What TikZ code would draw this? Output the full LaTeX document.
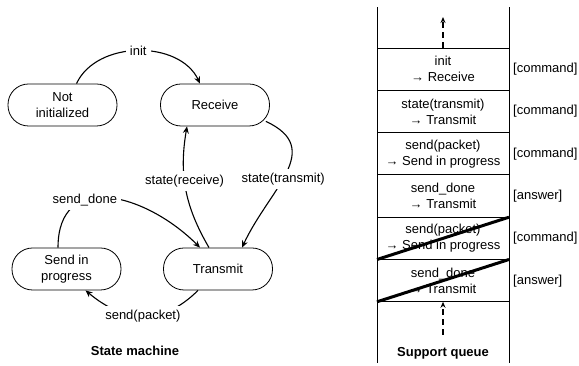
\documentclass[tikz,border=0pt]{standalone}
\usepackage{fontspec}
\setmainfont{Liberation Sans}
\usetikzlibrary{arrows.meta,positioning}

\begin{document}
\begin{tikzpicture}[x=1pt, y=1pt,
  every node/.style={font=\fontsize{13}{16}\selectfont},
  statenode/.style={draw, rounded corners=20.5pt, minimum width=109pt, minimum height=42pt, align=center, line width=0.8pt},
  edgelabel/.style={fill=white, inner sep=4pt},
  queuerow/.style={draw, minimum width=132pt, minimum height=42.3pt, align=center, inner sep=0pt, outer sep=0pt, line width=0.8pt},
  kindlabel/.style={anchor=west, inner sep=0pt, xshift=4pt},
  transition/.style={-{Stealth[length=7pt,width=6pt]}, line width=1.1pt},
  flow/.style={-{Stealth[length=6pt,width=5pt]}, dash pattern=on 6pt off 4pt, line width=1.1pt},
  title/.style={font=\fontsize{13}{16}\selectfont\bfseries}]
\useasboundingbox (0,0) rectangle (579,366);
% State machine
\node[statenode] (notinit) at (62.5, 261) {Not\\initialized};
\node[statenode] (receive) at (215, 261) {Receive};
\node[statenode] (sendprog) at (66.5, 97) {Send in\\progress};
\node[statenode] (transmit) at (218, 97) {Transmit};
\node[title] (smtitle) at (135, 15) {State machine};
\draw[transition] ([xshift=14pt]notinit.north) to[out=65, in=115] node[edgelabel] {init} ([xshift=-15pt]receive.north);
\draw[transition] ([shift={(-4pt,5pt)}]receive.south east) to[out=-25, in=65, looseness=1.3] node[edgelabel, pos=0.55] {state(transmit)} ([xshift=24pt]transmit.north);
\draw[transition] ([xshift=-9pt]transmit.north) to[bend left=20] node[edgelabel, pos=0.57] {state(receive)} ([xshift=-28pt]receive.south);
\draw[transition] ([xshift=-8.5pt]sendprog.north) to[out=90, in=135, looseness=1.4] node[edgelabel, pos=0.35] {send\_done} ([xshift=-18pt]transmit.north);
\draw[transition] ([xshift=-20pt]transmit.south) to[out=-135, in=-40, looseness=1.15] node[edgelabel] {send(packet)} ([xshift=19pt]sendprog.south);
% Support queue
\draw[line width=0.8pt] (377, 3) -- (377, 359);
\draw[line width=0.8pt] (509, 3) -- (509, 359);
\node[queuerow] (row1) at (443, 296.85) {init\\→ Receive};
\node[queuerow, below=0pt of row1] (row2) {state(transmit)\\→ Transmit};
\node[queuerow, below=0pt of row2] (row3) {send(packet)\\→ Send in progress};
\node[queuerow, below=0pt of row3] (row4) {send\_done\\→ Transmit};
\node[queuerow, below=0pt of row4] (row5) {send(packet)\\→ Send in progress};
\node[queuerow, below=0pt of row5] (row6) {send\_done\\→ Transmit};
\node[kindlabel] (kind1) at (row1.east) {[command]};
\node[kindlabel] (kind2) at (row2.east) {[command]};
\node[kindlabel] (kind3) at (row3.east) {[command]};
\node[kindlabel] (kind4) at (row4.east) {[answer]};
\node[kindlabel] (kind5) at (row5.east) {[command]};
\node[kindlabel] (kind6) at (row6.east) {[answer]};
\draw[line width=3pt] (row5.south west) -- (row5.north east);
\draw[line width=3pt] (row6.south west) -- (row6.north east);
\coordinate (qtop) at (443, 349);
\coordinate (qbot) at (443, 31);
\draw[flow] (row1.north) -- (qtop);
\draw[flow] (qbot) -- (row6.south);
\node[title] (sqtitle) at (443, 13) {Support queue};
\end{tikzpicture}
\end{document}
